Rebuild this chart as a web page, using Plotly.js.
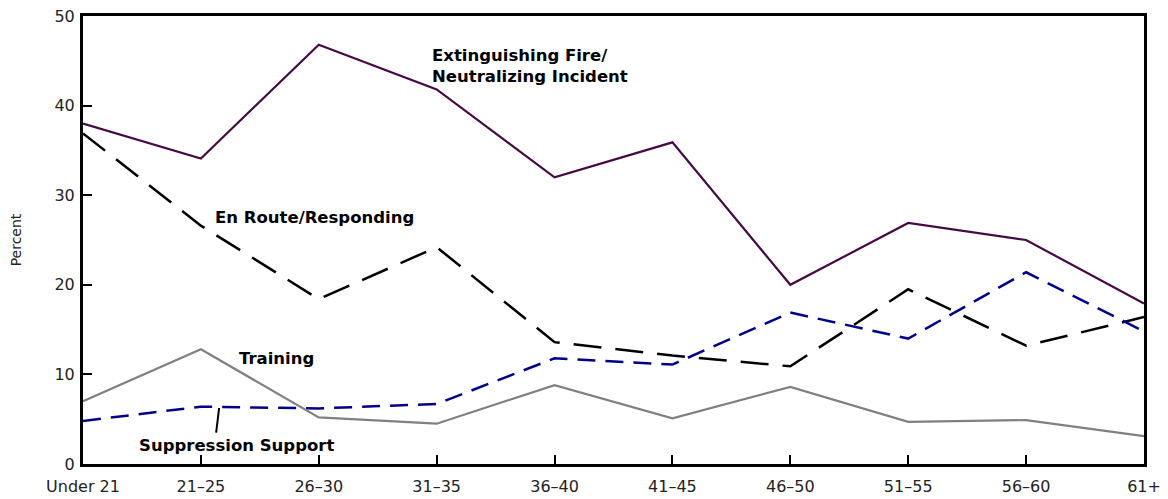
<!DOCTYPE html>
<html>
<head>
<meta charset="utf-8">
<script src="https://cdn.plot.ly/plotly-3.0.1.min.js"></script>
<style>html,body{margin:0;padding:0;background:#fff;}#chart{width:1168px;height:499px;}</style>
</head>
<body>
<div id="chart"></div>
<script>
const categories = ["Under 21","21\u201325","26\u201330","31\u201335","36\u201340","41\u201345","46\u201350","51\u201355","56\u201360","61+"];
const extinguishing = [38.0, 34.1, 46.8, 41.8, 32.0, 35.9, 20.0, 26.9, 25.0, 17.9];
const enRoute = [36.9, 26.6, 18.4, 24.2, 13.6, 12.1, 10.9, 19.5, 13.2, 16.4];
const suppression = [4.8, 6.4, 6.2, 6.7, 11.8, 11.1, 16.9, 14.0, 21.4, 14.8];
const training = [7.0, 12.8, 5.2, 4.5, 8.8, 5.1, 8.6, 4.7, 4.9, 3.1];
const yTicks = [0, 10, 20, 30, 40, 50];

const idx = categories.map((c, i) => i);
const traces = [
  {x: idx, y: extinguishing, mode: "lines", line: {color: "#450a45", width: 2.2}},
  {x: idx, y: enRoute, mode: "lines", line: {color: "#000000", width: 2.5, dash: "28px,14px"}},
  {x: idx, y: suppression, mode: "lines", line: {color: "#00008b", width: 2.5, dash: "18px,10px"}},
  {x: idx, y: training, mode: "lines", line: {color: "#808080", width: 2.2}}
];

const lab = {family: "DejaVu Sans, Verdana, sans-serif", size: 16.5, color: "#000"};
const layout = {
  width: 1168, height: 499,
  margin: {l: 83, r: 24, t: 16, b: 35},
  paper_bgcolor: "#fff", plot_bgcolor: "#fff",
  showlegend: false,
  font: {family: "DejaVu Sans, Verdana, sans-serif", size: 16, color: "#222"},
  xaxis: {
    range: [0, 9], tickvals: idx, ticktext: categories,
    showgrid: false, zeroline: false,
    showline: true, linecolor: "#000", linewidth: 3, mirror: true,
    ticks: "inside", ticklen: 9, tickwidth: 2, tickcolor: "#000",
    ticklabelstandoff: 6,
    tickfont: {size: 16, color: "#222"}
  },
  yaxis: {
    range: [0, 50], tickvals: yTicks,
    showgrid: false, zeroline: false,
    showline: true, linecolor: "#000", linewidth: 3, mirror: true,
    ticks: "inside", ticklen: 9, tickwidth: 2, tickcolor: "#000",
    ticklabelstandoff: 2,
    tickfont: {size: 16, color: "#222"},
    title: {text: "Percent", font: {size: 14, color: "#222"}, standoff: 30}
  },
  annotations: [
    {xref: "paper", yref: "paper", x: 0.327, y: 0.888, xanchor: "left", yanchor: "middle", align: "left", showarrow: false,
     text: "<b>Extinguishing Fire/<br>Neutralizing Incident</b>", font: lab},
    {xref: "paper", yref: "paper", x: 0.1226, y: 0.551, xanchor: "left", yanchor: "middle", showarrow: false,
     text: "<b>En Route/Responding</b>", font: lab},
    {xref: "paper", yref: "paper", x: 0.1453, y: 0.2366, xanchor: "left", yanchor: "middle", showarrow: false,
     text: "<b>Training</b>", font: lab},
    {xref: "paper", yref: "paper", x: 0.0509, y: 0.0424, xanchor: "left", yanchor: "middle", showarrow: false,
     text: "<b>Suppression Support</b>", font: lab}
  ],
  shapes: [
    {type: "line", xref: "paper", yref: "paper", x0: 0.1283, y0: 0.125, x1: 0.1255, y1: 0.070, line: {color: "#000", width: 2}}
  ]
};

Plotly.newPlot("chart", traces, layout, {displayModeBar: false, staticPlot: true});
</script>
</body>
</html>
